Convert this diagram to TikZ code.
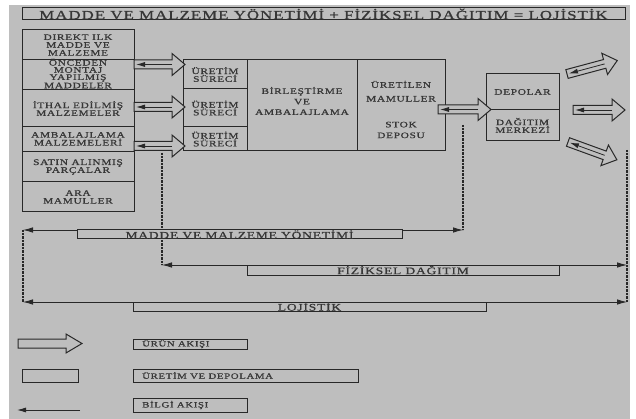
\documentclass[tikz,border=0pt]{standalone}
\usepackage{fontspec}
\setmainfont{Liberation Serif}[LetterSpace=8, FakeStretch=1.35, FakeBold=1]
\usetikzlibrary{arrows.meta}
\definecolor{bg}{RGB}{190,190,190}
\definecolor{lc}{RGB}{40,40,40}
\definecolor{tc}{RGB}{55,55,55}
\begin{document}
\begin{tikzpicture}[x=1pt,y=-1pt,
  box/.style={draw=lc, line width=1pt, fill=bg, inner sep=0pt, outer sep=0pt, text=tc, align=center, font=\fontsize{8.4}{7.8}\selectfont},
  lab/.style={draw=lc, line width=1pt, fill=bg, inner sep=0pt, outer sep=0pt, text=tc, font=\fontsize{10}{10}\selectfont},
  txt/.style={inner sep=0pt, text=tc, align=center, font=\fontsize{8.4}{7.8}\selectfont},
  legtxt/.style={inner sep=0pt, text=tc, anchor=west, font=\fontsize{8}{8}\selectfont},
  info/.style={draw=lc, line width=0.8pt},
  tipL/.style={-{Latex[length=9pt,width=5pt]}},
  both/.style={{Latex[length=10pt,width=5.5pt]}-{Latex[length=10pt,width=5.5pt]}},
  dotline/.style={draw=lc, line width=1.8pt, dash pattern=on 0.7pt off 0.7pt},
  pics/blk/.style n args={3}{code={\draw[draw=lc, line width=1pt, fill=bg, line join=miter] (0,-4.5) -- ({#1-#2},-4.5) -- ({#1-#2},-#3) -- (#1,0) -- ({#1-#2},#3) -- ({#1-#2},4.5) -- (0,4.5) -- cycle;}},
  pics/flow/.style={code={\pic {blk={#1}{13}{11}}; \draw[info, tipL] ({#1-13},0) -- (2,0);}},
]
\useasboundingbox (0,0) rectangle (636,419);
\fill[white] (0,0) rectangle (636,419);
\fill[bg] (9,5) rectangle (630,419);

% title
\node[box, minimum width=603pt, minimum height=12pt, font=\fontsize{12.5}{12}\selectfont] (title) at (323.5,14)
  {MADDE VE MALZEME YÖNETİMİ + FİZİKSEL DAĞITIM = LOJİSTİK};

% left column
\node[box, minimum width=112pt, minimum height=30pt] (c1) at (78,45) {DIREKT ILK\\MADDE VE\\MALZEME};
\node[box, minimum width=112pt, minimum height=30pt] (c2) at (78,75) {};
\node[txt, font=\fontsize{8.4}{7.2}\selectfont] (c2t) at (78,73.5) {ÖNCEDEN\\MONTAJ\\YAPILMIŞ\\MADDELER};
\node[box, minimum width=112pt, minimum height=37pt] (c3) at (78,108.5) {İTHAL EDİLMİŞ\\MALZEMELER};
\node[box, minimum width=112pt, minimum height=25pt] (c4) at (78,139.5) {};
\node[txt] (c4t) at (78,138.8) {AMBALAJLAMA\\MALZEMELERİ};
\node[box, minimum width=112pt, minimum height=30pt] (c5) at (78,167) {SATIN ALINMIŞ\\PARÇALAR};
\node[box, minimum width=112pt, minimum height=30pt] (c6) at (78,197) {ARA\\MAMULLER};

% production column
\node[box, minimum width=64pt, minimum height=29pt] (u1) at (215,74.5) {ÜRETİM\\SÜRECİ};
\node[box, minimum width=64pt, minimum height=38pt] (u2) at (215,108) {ÜRETİM\\SÜRECİ};
\node[box, minimum width=64pt, minimum height=24pt] (u3) at (215,139) {ÜRETİM\\SÜRECİ};

\node[box, minimum width=110pt, minimum height=91pt] (b) at (302,105.5) {};
\node[txt] (bt) at (302,101) {BİRLEŞTİRME\\[2.7pt]VE\\[2.7pt]AMBALAJLAMA};
\node[box, minimum width=88pt, minimum height=91pt] (s) at (401,105.5) {};
\node[txt] (st) at (401,109.5) {ÜRETİLEN\\[6pt]MAMULLER\\[18pt]STOK\\[3pt]DEPOSU};

\node[box, minimum width=73pt, minimum height=36pt] (d1) at (522.5,92) {DEPOLAR};
\node[box, minimum width=73pt, minimum height=31pt] (d2) at (522.5,125.5) {DAĞITIM\\MERKEZİ};

% product flow arrows
\pic (a1) at (134,64.5) {flow=51};
\pic (a2) at (134,107) {flow=51};
\pic (a3) at (134,146) {flow=51};
\pic (a4) at (438,109.5) {flow=53};
\pic (a5) at (573,110) {flow=52};
\begin{scope}[shift={(567,74)}, x={(0.966pt,0.259pt)}, y={(0.259pt,-0.966pt)}]
  \pic (a6) at (0,0) {flow=52};
\end{scope}
\begin{scope}[shift={(568,142)}, x={(0.940pt,-0.342pt)}, y={(-0.342pt,-0.940pt)}]
  \pic (a7) at (0,0) {flow=52};
\end{scope}

% scope lines
\coordinate (mL) at (23,230);
\coordinate (mR) at (463,230);
\coordinate (fL) at (162,265);
\coordinate (fR) at (627,265);
\coordinate (lL) at (23,302);
\coordinate (lR) at (627,302);
\coordinate (pA) at (162,153);
\coordinate (pB) at (463,125);
\coordinate (pC) at (627,150);

\draw[dotline] (pA) -- (fL);
\draw[dotline] (pB) -- (mR);
\draw[dotline] (pC) -- (lR);
\draw[dotline] (mL) -- (lL);

\draw[info, both] (mL) -- (mR);
\draw[info, both] (fL) -- (fR);
\draw[info, both] (lL) -- (lR);

\node[lab, minimum width=325pt, minimum height=9pt] (mb) at (239.5,234.5) {MADDE VE MALZEME YÖNETİMİ};
\node[lab, minimum width=312pt, minimum height=10pt] (fb) at (403,270) {FİZİKSEL DAĞITIM};
\node[lab, minimum width=353pt, minimum height=9pt] (lb) at (309.5,306.5) {LOJİSTİK};

% legend
\pic (la) at (18,343.5) {blk={64}{16}{9.5}};
\node[lab, minimum width=114pt, minimum height=10pt] (l1) at (190,344) {};
\node[legtxt] (l1t) at (142,344) {ÜRÜN AKIŞI};
\node[lab, minimum width=56pt, minimum height=13pt] (lr) at (50,375.5) {};
\node[lab, minimum width=225pt, minimum height=13pt] (l2) at (245.5,375.5) {};
\node[legtxt] (l2t) at (142,375.5) {ÜRETİM VE DEPOLAMA};
\coordinate (iR) at (80,410);
\coordinate (iL) at (17,410);
\draw[info, tipL] (iR) -- (iL);
\node[lab, minimum width=114pt, minimum height=14pt] (l3) at (190,405) {};
\node[legtxt] (l3t) at (142,405) {BİLGİ AKIŞI};
\end{tikzpicture}
\end{document}
